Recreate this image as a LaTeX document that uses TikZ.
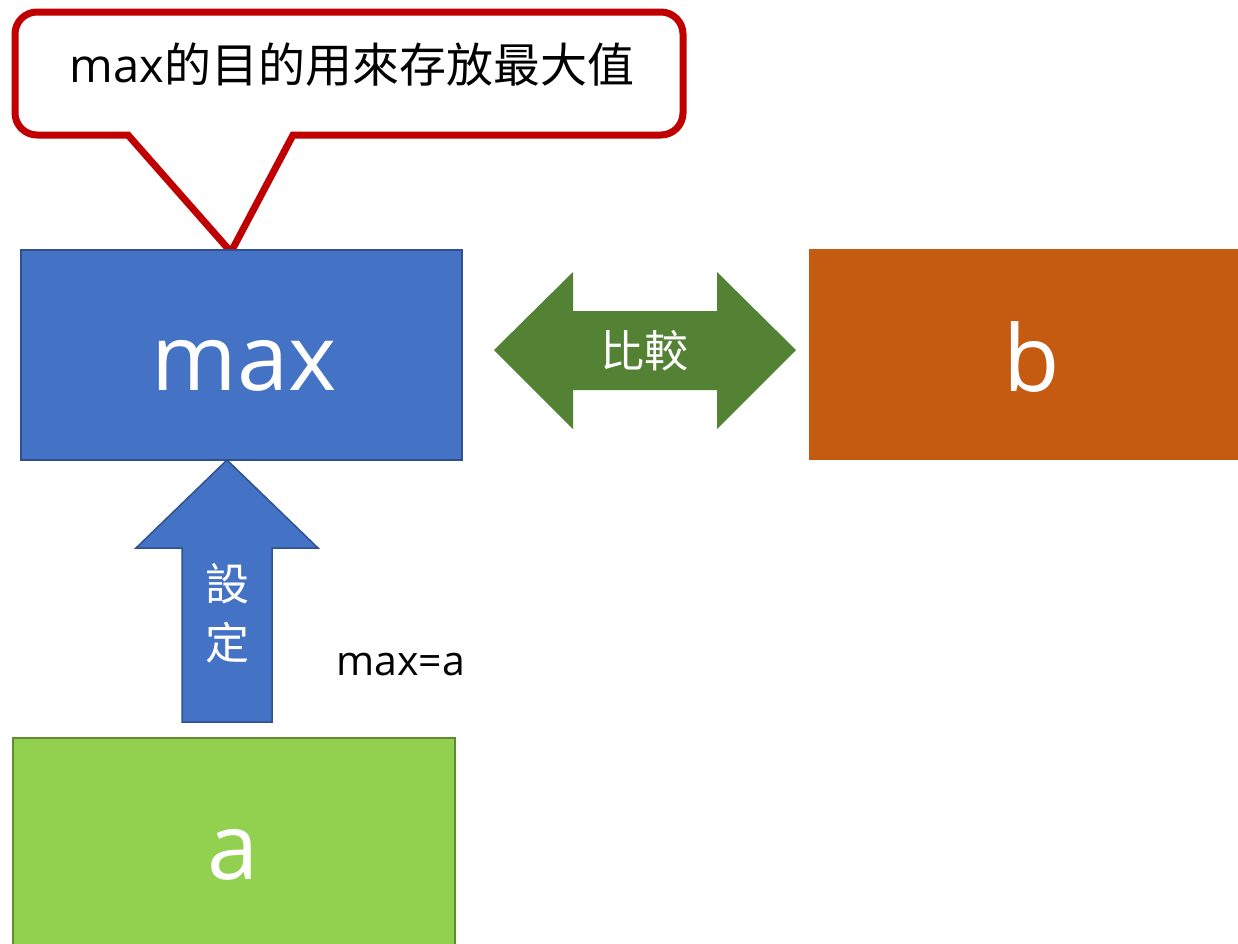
\documentclass[tikz,border=0pt]{standalone}
\usepackage{fontspec}
\setmainfont{Open Sans}
\newfontfamily\cjk{Noto Sans CJK TC}
\definecolor{boxblue}{HTML}{4472C4}
\definecolor{boxblueedge}{HTML}{2F528F}
\definecolor{callred}{HTML}{C00000}
\definecolor{arrgreen}{HTML}{548235}
\definecolor{boxorange}{HTML}{C55A11}
\definecolor{boxlime}{HTML}{92D050}
\definecolor{limeedge}{HTML}{5E8C31}
\begin{document}
\begin{tikzpicture}[x=1pt,y=-1pt,
  box/.style={rectangle,inner sep=0pt,outer sep=0pt},
  bigtext/.style={text=white,font=\fontsize{92}{92}\selectfont,anchor=base,inner sep=0pt},
  cjklabel/.style={text=white,font=\cjk\fontsize{44}{44}\selectfont,inner sep=0pt},
  blockarrow/.style={line join=miter}]
\useasboundingbox (0,0) rectangle (1238,943);
\clip (0,0) rectangle (1238,943);
\fill[white] (0,0) rectangle (1238,943);

% callout
\draw[callred,line width=7pt,fill=white,line join=miter]
  (231,252) -- (128,135) -- (37,135)
  .. controls (24.9,135) and (15,125.1) .. (15,113)
  -- (15,34) .. controls (15,21.9) and (24.9,12) .. (37,12)
  -- (661,12) .. controls (673.1,12) and (683,21.9) .. (683,34)
  -- (683,113) .. controls (683,125.1) and (673.1,135) .. (661,135)
  -- (293,135) -- cycle;
\node[anchor=base,inner sep=0pt,font=\fontsize{47}{47}\selectfont] (note) at (352,82)
  {max{\cjk 的目的用來存放最大值}};

% boxes
\node[box,fill=boxblue,draw=boxblueedge,line width=1.5pt,minimum width=441pt,minimum height=210pt] (maxbox) at (241.5,355) {};
\node[bigtext] (maxtext) at (244,390) {max};

\node[box,fill=boxorange,minimum width=430pt,minimum height=211pt] (bbox) at (1024,354.5) {};
\node[bigtext] (btext) at (1032,391) {b};

\node[box,fill=boxlime,draw=limeedge,line width=1.5pt,minimum width=442pt,minimum height=220pt] (abox) at (234,848) {};
\node[bigtext] (atext) at (233,879) {a};

% double arrow (compare)
\coordinate (cl) at (494,350);
\coordinate (cr) at (796,350);
\fill[arrgreen] (cl) -- (573,272) -- (573,311) -- (717,311) -- (717,272) -- (cr)
  -- (717,429) -- (717,390) -- (573,390) -- (573,429) -- cycle;
\node[cjklabel] (cmp) at (644,351) {比較};

% up arrow (set)
\coordinate (utip) at (227,460);
\draw[boxblueedge,fill=boxblue,line width=1.5pt,blockarrow]
  (utip) -- (318,548) -- (272,548) -- (272,722) -- (182,722) -- (182,548) -- (136,548) -- cycle;
\node[cjklabel] (set1) at (227,584) {設};
\node[cjklabel] (set2) at (227,643) {定};

\node[anchor=base west,inner sep=0pt,font=\fontsize{41}{41}\selectfont] (assign) at (336,675) {max=a};
\end{tikzpicture}
\end{document}
